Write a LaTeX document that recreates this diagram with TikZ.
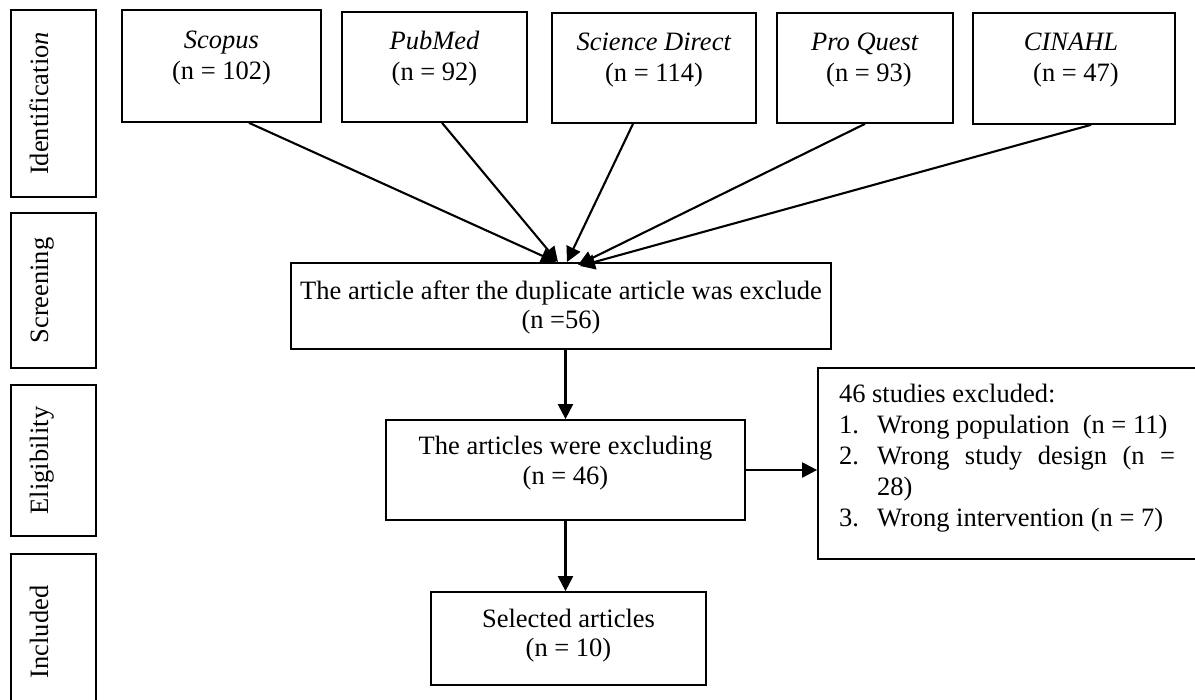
\documentclass[tikz,border=0pt]{standalone}
\usepackage{fontspec}
\setmainfont{Liberation Serif}
\usetikzlibrary{arrows.meta,fit}
\tikzset{
  box/.style={draw=black, line width=1.7pt, inner sep=0pt, fill=none},
  txt/.style={inner sep=0pt, outer sep=0pt, font=\fontsize{26.5}{31}\selectfont, anchor=base},
  txtw/.style={txt, anchor=base west},
  phase/.style={txt, rotate=90},
  arr/.style={line width=2.1pt, -{Triangle[length=15pt,width=15pt]}},
}
\begin{document}
\begin{tikzpicture}[x=1pt,y=-1pt]
\useasboundingbox (0,0) rectangle (1195,700);
\fill[white] (0,0) rectangle (1195,700);

% phase boxes
\node[box, fit={(11,10) (96,197)}] (pid) {};
\node[box, fit={(11,213) (96,368)}] (psc) {};
\node[box, fit={(11,385) (96,536)}] (pel) {};
\node[box, fit={(11,554) (96,712)}] (pin) {};
\node[phase] (tid) at (48,103.5) {Identificatio\textit{n}};
\node[phase] (tsc) at (48,290.5) {Screening};
\node[phase] (tel) at (48,460.5) {Eligibility};
\node[phase] (tin) at (48,632) {Included};

% source boxes
\node[box, fit={(122,10) (321,122)}] (scopus) {};
\node[box, fit={(342,12) (527,122)}] (pubmed) {};
\node[box, fit={(552,13) (756,123)}] (sd) {};
\node[box, fit={(777,13) (953,123)}] (pq) {};
\node[box, fit={(973,13) (1175,124)}] (cin) {};
\node[txt] (t1a) at (221.5,49) {\textit{Scopus}};
\node[txt] (t1b) at (221.5,80) {(n = 102)};
\node[txt] (t2a) at (434.5,50) {\textit{PubMed}};
\node[txt] (t2b) at (434.5,81) {(n = 92)};
\node[txt] (t3a) at (654,51) {\textit{Science Direct}};
\node[txt] (t3b) at (654,82) {(n = 114)};
\node[txt] (t4a) at (865,51) {\textit{Pro Quest}};
\node[txt] (t4b) at (869,82) {(n = 93)};
\node[txt] (t5a) at (1071,51) {\textit{CINAHL}};
\node[txt] (t5b) at (1076,82) {(n = 47)};

% flow boxes
\node[box, fit={(291,263) (831,349)}] (screen) {};
\node[txt] (s1) at (561,300) {The article after the duplicate article was exclude};
\node[txt] (s2) at (561,329) {(n =56)};

\node[box, fit={(386,420) (745,520)}] (elig) {};
\node[txt] (e1) at (565.5,455) {The articles were excluding};
\node[txt] (e2) at (565.5,485) {(n = 46)};

\node[box, fit={(431,592) (706,685)}] (sel) {};
\node[txt] (c1) at (568.5,627) {Selected articles};
\node[txt] (c2) at (568.5,656) {(n = 10)};

\node[box, fit={(818,368) (1215,559)}] (excl) {};
\node[txtw] (x0) at (839,403) {46 studies excluded:};
\node[txtw] (x1n) at (839,434) {1.};
\node[txtw] (x1) at (877,434) {Wrong population\ \ (n = 11)};
\node[txtw] (x2n) at (839,465) {2.};
\node[txtw] (x2) at (877,465) {\makebox[298pt][s]{Wrong study design (n =}};
\node[txtw] (x2b) at (877,496) {28)};
\node[txtw] (x3n) at (839,527) {3.};
\node[txtw] (x3) at (877,527) {Wrong intervention (n = 7)};

% converging arrows
\coordinate (m1) at (556,262);
\coordinate (m2) at (558,262);
\coordinate (m3) at (567,262);
\coordinate (m4) at (578,265);
\coordinate (m5) at (580,266);
\draw[arr] ([xshift=27.5pt]scopus.south) -- (m1);
\draw[arr] ([xshift=7.5pt]pubmed.south) -- (m2);
\draw[arr] ([xshift=-21pt]sd.south) -- (m3);
\draw[arr] (pq.south) -- (m4);
\draw[arr] ([xshift=17pt]cin.south) -- (m5);

% flow arrows
\draw[arr] (screen.south -| elig.north) -- (elig.north);
\draw[arr] (elig.south) -- (sel.north -| elig.south);
\draw[arr] (elig.east) -- (excl.west |- elig.east);
\end{tikzpicture}
\end{document}
